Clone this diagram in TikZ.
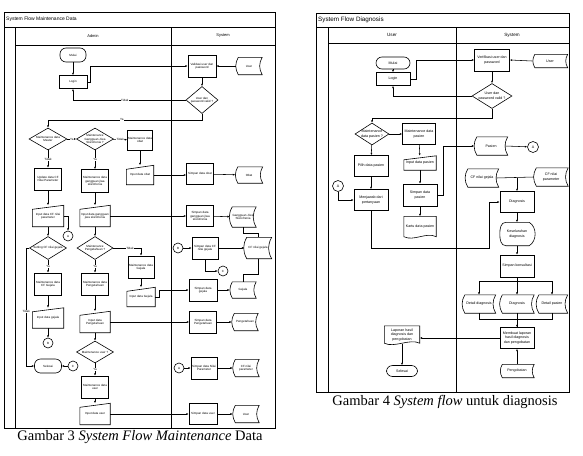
\documentclass[tikz,border=0pt]{standalone}
\usepackage{fontspec}
\setmainfont{Liberation Serif}
\setsansfont{Liberation Sans}
\usepackage{tikz}
\usetikzlibrary{arrows.meta,positioning,calc,shapes.geometric}
\newcommand{\flowfont}{\sffamily\fontsize{3}{3.5}\selectfont}
\tikzset{
  flowarrow/.style={-{Latex[length=2.4pt,width=2pt]}, line width=0.55pt, draw=black},
  flowline/.style={line width=0.55pt, draw=black},
  outline/.style={line width=0.6pt, draw=black},
  frame/.style={line width=0.8pt, draw=black},
  proc/.style={draw, line width=0.6pt, fill=white, align=center, inner sep=0.5pt,
    font=\flowfont, minimum width=27pt, minimum height=22pt},
  term/.style={draw, line width=0.6pt, rounded corners=6pt, align=center, inner sep=0.5pt,
    font=\flowfont, minimum width=27pt, minimum height=14pt},
  decision/.style={draw, diamond, aspect=1.7, line width=0.6pt, align=center, inner sep=0pt,
    font=\flowfont, minimum width=37pt, minimum height=22pt},
  store/.style={align=center, inner sep=0.5pt, font=\flowfont, minimum width=26pt, minimum height=17pt},
  manual/.style={align=center, inner sep=0.5pt, font=\flowfont, minimum width=30pt, minimum height=21pt},
  docbox/.style={align=center, inner sep=0.5pt, font=\flowfont, minimum width=32pt, minimum height=21pt},
  joint/.style={draw, circle, line width=0.6pt, inner sep=0pt, minimum size=10pt, font=\flowfont},
  lbl/.style={font=\flowfont, fill=white, inner sep=0.4pt},
  lanehead/.style={font=\sffamily\fontsize{4}{5}\selectfont},
  pooltitle/.style={anchor=west, inner sep=0pt},
  caption/.style={font=\rmfamily\fontsize{14.5}{16}\selectfont, inner sep=0pt}
}

\begin{document}
\begin{tikzpicture}[x=1pt,y=-1pt]
  \useasboundingbox (0,0) rectangle (583,455);

  % System Flow Maintenance Data
  \draw[frame] (4,12) rectangle (275,428);
  \draw[frame] (4,27) -- (275,27);
  \draw[frame] (15,27) -- (15,428);
  \draw[frame] (15,45) -- (275,45);
  \draw[frame] (171,27) -- (171,428);
  \node[pooltitle, font=\sffamily\fontsize{5}{6}\selectfont] (titleA) at (6,19.5) {System Flow Maintenance Data};
  \node[lanehead] (adminhead) at (93,36) {Admin};
  \node[lanehead] (sysheadA) at (223,36) {System};

  \node[term, minimum width=26pt] (mulaiA) at (73,55) {Mulai};
  \node[proc, minimum width=28pt, minimum height=13pt] (loginA) at (73,82) {Login};
  \node[proc, minimum width=28pt] (validA) at (202,66) {Validasi user dan\\password};
  \node[store] (userA) at (249,66) {User};
  \node[decision, aspect=1.2, minimum width=32pt, minimum height=27pt] (validDA) at (202,100) {User dan\\password valid ?};
  \node[decision, minimum width=38pt] (dMaster) at (48,139) {Maintenance data\\Master};
  \node[decision] (dGangguan) at (95,139) {Maintenance\\Gangguan Jiwa\\Skizofrenia ?};
  \node[proc, minimum width=25pt, minimum height=20pt] (mObat) at (140,140) {Maintenance data\\obat};
  \node[manual, minimum width=27pt, minimum height=19pt] (inObat) at (140,175) {Input data obat};
  \node[proc, minimum height=21pt] (sObat) at (200,174) {Simpan data obat};
  \node[store, minimum width=27pt, minimum height=16pt] (stObat) at (249,175) {Obat};
  \node[proc] (uCF) at (48,179) {Update data CF\\Nilai Parameter};
  \node[proc, minimum height=23pt] (mGangguan) at (95,181) {Maintenance data\\gangguan jiwa\\skizofrenia};
  \node[manual, minimum width=31pt] (inCF) at (48,216) {Input data CF nilai\\parameter};
  \node[manual] (inGangguan) at (95,216) {Input data gangguan\\jiwa skizofrenia};
  \node[joint] (cA1) at (68,236) {A};
  \node[proc, minimum height=21pt] (sGangguan) at (200,216) {Simpan data\\gangguan jiwa\\skizofrenia};
  \node[store, minimum height=20pt] (stGangguan) at (243,217) {Gangguan Jiwa\\Skizofrenia};
  \node[decision, minimum height=23pt] (dCF) at (48,248) {Setting CF nilai gejala};
  \node[decision, minimum width=36pt, minimum height=23pt] (dPengetahuan) at (95,248) {Maintenance\\Pengetahuan ?};
  \node[proc, minimum width=26pt] (mGejala) at (141,267) {Maintenance data\\Gejala};
  \node[manual, minimum width=28pt, minimum height=19pt] (inGejala) at (141,297) {Input data Gejala};
  \node[joint] (cB2) at (178,248) {B};
  \node[proc, minimum width=26pt] (sCF) at (205,248) {Simpan data CF\\nilai gejala};
  \node[store, minimum width=27pt, minimum height=21pt] (stCFGejala) at (258,248) {CF nilai gejala};
  \node[joint] (cC2) at (223,271) {C};
  \node[proc, minimum width=28pt] (sGejala) at (203,290) {Simpan data\\gejala};
  \node[store, minimum height=16pt] (stGejala) at (243,290) {Gejala};
  \node[proc] (mCFGejala) at (48,284) {Maintenance data\\CF Gejala};
  \node[manual, minimum width=31pt, minimum height=20pt] (inGejala2) at (48,318) {Input data gejala};
  \node[joint] (cB1) at (48,343) {B};
  \node[term] (selesaiA) at (48,366) {Selesai};
  \node[joint] (cC1) at (73,366) {C};
  \node[proc] (mPengetahuan) at (95,284) {Maintenance data\\Pengetahuan};
  \node[manual] (inPengetahuan) at (95,322) {Input data\\Pengetahuan};
  \node[proc] (sPengetahuan) at (203,322) {Simpan data\\Pengetahuan};
  \node[store] (stPengetahuan) at (245,322) {Pengetahuan};
  \node[decision] (dUser) at (95,352) {Maintenance user ?};
  \node[proc] (mUser) at (95,387) {Maintenance data\\user};
  \node[manual] (inUser) at (95,414) {Input data user};
  \node[proc, minimum width=28pt, minimum height=21pt] (sUser) at (203,414) {Simpan data user};
  \node[store] (stUser) at (246,414) {User};
  \node[joint] (cA2) at (179,368) {A};
  \node[proc, minimum width=26pt] (sParam) at (204,368) {Simpan data Nilai\\Parameter};
  \node[store] (stParam) at (246,368) {CF nilai\\parameter};

  \draw[flowarrow] (mulaiA) -- (loginA);
  \draw[flowarrow] (loginA.east) -- ++(3,0) |- (validA.west);
  \draw[flowarrow] (userA.west) -- (validA.east);
  \draw[flowarrow] (validA) -- (validDA);
  \draw[flowarrow] (validDA.west) -| node[lbl, pos=0.27] {Tidak} (loginA.south);
  \draw[flowarrow] (validDA.south) -- ++(0,6) -| node[lbl, pos=0.26] {Ya} (dMaster.north);
  \draw[flowarrow] (dMaster) -- node[lbl] {Ya} (dGangguan);
  \draw[flowarrow] (dGangguan) -- node[lbl] {Tidak} (mObat);
  \draw[flowarrow] (mObat) -- (inObat);
  \draw[flowarrow] (inObat.east) -- (sObat.west |- inObat.east);
  \draw[flowarrow] (sObat) -- (stObat);
  \draw[flowarrow] (dMaster) -- node[lbl] {Tidak} (uCF);
  \draw[flowarrow] (dGangguan) -- node[lbl] {Ya} (mGangguan);
  \draw[flowarrow] (uCF) -- (inCF);
  \draw[flowarrow] (mGangguan) -- (inGangguan);
  \draw[flowarrow] (inCF.east) -| (cA1.north);
  \draw[flowarrow] (inGangguan.east) -- (sGangguan.west);
  \draw[flowarrow] (sGangguan) -- (stGangguan);
  \draw[flowline] (stGangguan.south) -- ++(0,6) -| (stCFGejala.north);
  \draw[flowarrow] (cB2) -- (sCF);
  \draw[flowarrow] (sCF) -- (stCFGejala);
  \draw[flowarrow] (sCF.south) |- (cC2.west);
  \draw[flowline] (stCFGejala.south) -- ++(0,16) -| (stGejala.north);
  \draw[flowarrow] (inGejala.east) -- ++(4,0) |- (sGejala.west);
  \draw[flowarrow] (sGejala) -- (stGejala);
  \draw[flowarrow] (inGangguan) -- (dPengetahuan);
  \draw[flowarrow] (dPengetahuan.east) -| node[lbl, pos=0.3] {Tidak} (mGejala.north);
  \draw[flowarrow] (mGejala) -- (inGejala);
  \draw[flowarrow] (inCF) -- (dCF);
  \draw[flowarrow] (dCF) -- node[lbl] {Ya} (mCFGejala);
  \draw[flowarrow] (dCF.west) -- ++(-3,0) |- node[lbl, pos=0.27] {Tidak} (selesaiA.west);
  \draw[flowarrow] (cC1) -- (selesaiA);
  \draw[flowarrow] (mCFGejala) -- (inGejala2);
  \draw[flowarrow] (inGejala2) -- (cB1);
  \draw[flowarrow] (dPengetahuan) -- node[lbl] {Ya} (mPengetahuan);
  \draw[flowarrow] (mPengetahuan) -- (inPengetahuan);
  \draw[flowarrow] (inPengetahuan.east) -- (sPengetahuan.west);
  \draw[flowarrow] (sPengetahuan) -- (stPengetahuan);
  \draw[flowarrow] (inPengetahuan) -- (dUser);
  \draw[flowarrow] (dUser) -- node[lbl] {Ya} (mUser);
  \draw[flowarrow] (mUser) -- (inUser);
  \draw[flowarrow] (inUser.east) -- (sUser.west);
  \draw[flowarrow] (sUser) -- (stUser);
  \draw[flowarrow] (cA2) -- (sParam);
  \draw[flowarrow] (sParam) -- (stParam);

  % System Flow Diagnosis
  \begin{scope}
  \renewcommand{\flowfont}{\sffamily\fontsize{3.6}{4.2}\selectfont}
  \draw[frame] (316,13) rectangle (569,392);
  \draw[frame] (316,27) -- (569,27);
  \draw[frame] (328,27) -- (328,392);
  \draw[frame] (328,43) -- (569,43);
  \draw[frame] (456,27) -- (456,392);
  \node[pooltitle, font=\sffamily\fontsize{6.3}{7}\selectfont] (titleB) at (318,20) {System Flow Diagnosis};
  \node[lanehead, font=\sffamily\fontsize{4.6}{5.5}\selectfont] (userhead) at (392,35) {User};
  \node[lanehead, font=\sffamily\fontsize{4.6}{5.5}\selectfont] (sysheadB) at (512,35) {System};

  \node[term, minimum width=34pt, minimum height=12pt] (mulaiB) at (393,63) {Mulai};
  \node[proc, minimum width=34pt, minimum height=13pt] (loginB) at (393,79) {Login};
  \node[proc, minimum width=35pt] (verif) at (492,60) {Verifikasi user dan\\password};
  \node[store, minimum width=35pt, minimum height=13pt] (userB) at (550,61) {User};
  \node[decision, aspect=1.6, minimum width=40pt, minimum height=25pt] (validDB) at (492,96) {User dan\\password valid ?};
  \node[decision, aspect=1.55, minimum width=34pt, minimum height=22pt] (dPasien) at (372,134) {Maintenance\\data pasien ?};
  \node[proc, minimum width=33pt, minimum height=21pt] (mPasien) at (419,134) {Maintenance data\\pasien};
  \node[proc, minimum width=34pt, minimum height=21pt] (pilih) at (371,166) {Pilih data pasien};
  \node[proc, minimum width=34pt, minimum height=21pt] (jawab) at (371,200) {Menjawab dari\\pertanyaan};
  \node[joint, minimum size=11pt] (cA3) at (338,186) {A};
  \node[manual, minimum width=32pt, minimum height=14pt] (inPasien) at (420,163) {Input data pasien};
  \node[proc, minimum width=34pt] (sPasien) at (420,195) {Simpan data\\pasien};
  \node[docbox] (kartu) at (420,227) {Kartu data pasien};
  \node[store, minimum width=33pt, minimum height=18pt] (stPasien) at (491,146) {Pasien};
  \node[joint, minimum size=11pt] (cA4) at (533,147) {A};
  \node[store, minimum width=33pt, minimum height=18pt] (stCFG) at (482,178) {CF nilai gejala};
  \node[store, minimum width=34pt, minimum height=18pt] (stCFP) at (551,177) {CF nilai\\parameter};
  \node[proc, minimum width=34pt, minimum height=21pt] (diag) at (517,202) {Diagnosis};
  \node[store, minimum width=34pt, minimum height=23pt] (kesel) at (517,234) {Keseluruhan\\diagnosis};
  \node[proc, minimum width=34pt] (sKons) at (517,266) {Simpan konsultasi};
  \node[store, minimum width=33pt, minimum height=18pt] (stDetD) at (479,304) {Detail diagnosis};
  \node[store, minimum width=34pt, minimum height=18pt] (stDiag) at (517,304) {Diagnosis};
  \node[store, minimum width=31pt, minimum height=18pt] (stDetP) at (552,304) {Detail pasien};
  \node[proc, minimum width=34pt, minimum height=21pt] (lapor) at (517,338) {Membuat laporan\\hasil diagnosis\\dan pengobatan};
  \node[store, minimum width=34pt, minimum height=13pt] (stObat2) at (517,371) {Pengobatan};
  \node[docbox, minimum width=35pt, minimum height=18pt] (doc) at (402,335) {Laporan hasil\\diagnosis dan\\pengobatan};
  \node[term, minimum width=31pt, minimum height=11pt] (selesaiB) at (402,371) {Selesai};

  \draw[flowarrow] (mulaiB) -- (loginB);
  \draw[flowarrow] (loginB.east) -- ++(6,0) |- (verif.west);
  \draw[flowarrow] (userB.west) -- (verif.east);
  \draw[flowarrow] (verif) -- (validDB);
  \draw[flowarrow] (validDB.west) -| (loginB.south);
  \draw[flowarrow] (validDB.south) -- ++(0,9) -| (dPasien.north);
  \draw[flowarrow] (dPasien) -- (mPasien);
  \draw[flowarrow] (dPasien) -- (pilih);
  \draw[flowarrow] (pilih) -- (jawab);
  \draw[flowarrow] (cA3.south) |- (jawab.west);
  \draw[flowarrow] (jawab.south) -- ++(0,37) -| ([xshift=-10pt]diag.west) -- (diag.west);
  \draw[flowarrow] (mPasien) -- (inPasien);
  \draw[flowarrow] (inPasien) -- (sPasien);
  \draw[flowarrow] (sPasien.east) -- ++(6,0) |- (stPasien.west);
  \draw[flowarrow] (sPasien) -- (kartu);
  \draw[flowarrow] ([xshift=-2.5pt]stPasien.east) -- (cA4);
  \draw[flowline] ([xshift=-2.5pt]stCFG.east) -- (stCFP.west);
  \draw[flowarrow] (diag.north |- stCFG.east) -- (diag.north);
  \draw[flowarrow] (diag) -- (kesel);
  \draw[flowarrow] (kesel) -- (sKons);
  \draw[flowarrow] (sKons.south) -- ++(0,4) -| (stDetD.north);
  \draw[flowarrow] (sKons.south) -- ++(0,4) -| (stDetP.north);
  \draw[flowarrow] (sKons.south) -- (stDiag.north);
  \draw[flowline] (stDetD.south) -- ++(0,6) -| (lapor.north);
  \draw[flowline] (stDetP.south) -- ++(0,6) -| (lapor.north);
  \draw[flowarrow] (stDiag.south) -- (lapor.north);
  \draw[flowarrow] (stObat2) -- (lapor);
  \draw[flowarrow] (lapor.west) -- (doc.east |- lapor.west);
  \draw[flowarrow] (doc.south) -- (selesaiB);
  \end{scope}

  % outlines of the special shapes
  \foreach \n in {userA,stObat,stGangguan,stCFGejala,stGejala,stPengetahuan,stUser,stParam,
                  userB,stPasien,stCFG,stCFP,stDetD,stDiag,stDetP,stObat2}
    \draw[outline] ([xshift=2.5pt]\n.north west) to[bend right=30] ([xshift=2.5pt]\n.south west)
      -- (\n.south east) to[bend left=30] (\n.north east) -- cycle;
  \foreach \n in {inObat,inCF,inGangguan,inGejala,inGejala2,inPengetahuan,inUser,inPasien}
    \draw[outline] (\n.south west) -- ([yshift=-4pt]\n.north west) -- (\n.north east)
      -- (\n.south east) -- cycle;
  \foreach \n in {kartu,doc}
    \draw[outline] ([yshift=1pt]\n.south west) -- (\n.north west) -- (\n.north east)
      -- ([yshift=1pt]\n.south east) .. controls ([xshift=-10pt,yshift=6pt]\n.south east)
      and ([xshift=10pt,yshift=-4pt]\n.south west) .. ([yshift=1pt]\n.south west);
  \draw[outline] ([xshift=6pt]kesel.north west) -- ([xshift=-5pt]kesel.north east)
    to[bend left=60] ([xshift=-5pt]kesel.south east) -- ([xshift=6pt]kesel.south west)
    to[out=180,in=-90] (kesel.west) to[out=90,in=180] ([xshift=6pt]kesel.north west);

  \node[caption] (capA) at (140,437) {Gambar 3 \textit{System Flow Maintenance} Data};
  \node[caption] (capB) at (445,402) {Gambar 4 \textit{System flow} untuk diagnosis};
\end{tikzpicture}
\end{document}
